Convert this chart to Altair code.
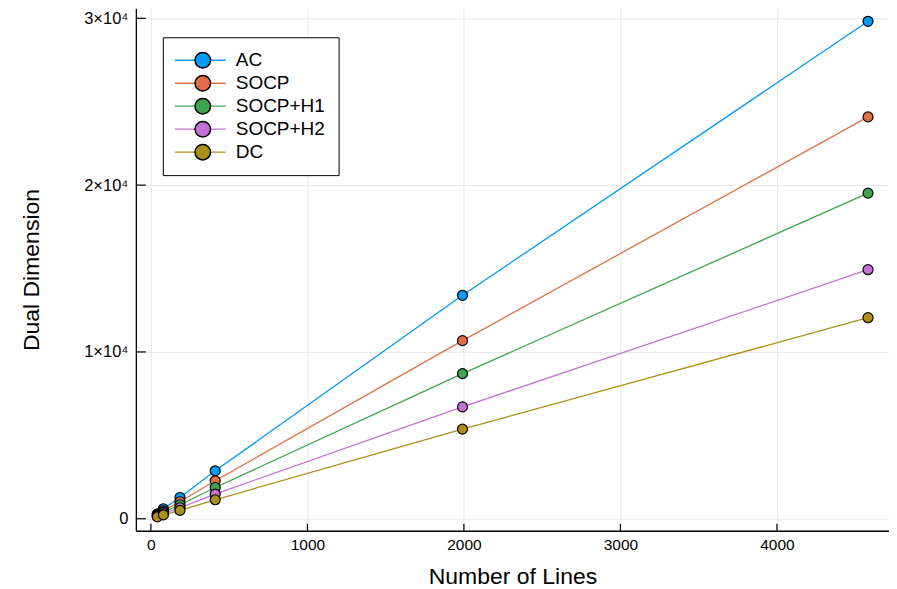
import altair as alt
import pandas as pd

# ---- data ----
series = ["AC", "SOCP", "SOCP+H1", "SOCP+H2", "DC"]
colors = ["#009AFA", "#E36F47", "#3EA44E", "#C371D2", "#AC8E18"]
lines = [41, 80, 186, 411, 1991, 4582]
ac = [290, 600, 1275, 2874, 13395, 29820]
socp = [230, 470, 1020, 2275, 10677, 24090]
socp_h1 = [190, 380, 840, 1874, 8701, 19520]
socp_h2 = [150, 300, 660, 1479, 6707, 14930]
dc = [115, 230, 500, 1138, 5371, 12054]

x_ticks = [0, 1000, 2000, 3000, 4000]
y_ticks = [0, 10000, 20000, 30000]
y_tick_labels = ["0", "1×10⁴", "2×10⁴", "3×10⁴"]

x_title = "Number of Lines"
y_title = "Dual Dimension"

# ---- build table ----
vals = [ac, socp, socp_h1, socp_h2, dc]
rows = []
for i, (s, v) in enumerate(zip(series, vals)):
    for xv, yv in zip(lines, v):
        rows.append({"series": s, "name": s, "idx": i, "lines": xv, "value": yv})
df = pd.DataFrame(rows)

W, H = 754, 523
FONT = "Liberation Sans"

xs = alt.Scale(domain=[-96, 4716], nice=False, zero=False)
ys = alt.Scale(domain=[-719, 30599], nice=False, zero=False)

label_expr = ""
for v, l in zip(y_ticks, y_tick_labels):
    label_expr += f"datum.value == {v} ? '{l}' : "
label_expr += "''"

x_axis = alt.Axis(values=x_ticks, title=x_title, ticks=False, grid=True,
                  labelPadding=7, format="d", titleX=W / 2, titleY=53,
                  titleBaseline="alphabetic", titleAlign="center")
y_axis = alt.Axis(values=y_ticks, title=y_title, ticks=False, grid=True,
                  labelPadding=8, labelExpr=label_expr, labelFontSize=16.5,
                  titleX=-97, titleY=H / 2,
                  titleAngle=270, titleBaseline="alphabetic", titleAlign="center")

tick_df_x = pd.DataFrame({"lines": x_ticks})
tick_df_y = pd.DataFrame({"value": y_ticks})

xt = alt.Chart(tick_df_x).mark_rule(color="black", strokeWidth=1.2).encode(
    x=alt.X("lines:Q", scale=xs, axis=x_axis),
    y=alt.value(H - 7), y2=alt.value(H),
)
yt = alt.Chart(tick_df_y).mark_rule(color="black", strokeWidth=1.2).encode(
    y=alt.Y("value:Q", scale=ys, axis=y_axis),
    x=alt.value(0), x2=alt.value(10),
)

line = alt.Chart(df).mark_line(strokeWidth=1.3).encode(
    x=alt.X("lines:Q", scale=xs, axis=x_axis),
    y=alt.Y("value:Q", scale=ys, axis=y_axis),
    color=alt.Color("series:N", scale=alt.Scale(domain=series, range=colors),
                    legend=alt.Legend(title=None, orient="none", legendX=27, legendY=29,
                                      symbolType="M-3.29,0L2.71,0", symbolSize=289,
                                      symbolStrokeWidth=1.3, symbolOffset=19,
                                      labelOffset=115, labelExpr="''", labelFontSize=19,
                                      labelFont=FONT, padding=11.5, strokeColor="black",
                                      fillColor="white", rowPadding=0, clipHeight=23,
                                      zindex=1, cornerRadius=0)),
    detail="series:N",
)

pts = alt.Chart(df).mark_point(filled=True, shape="circle", size=100, stroke="black",
                               strokeWidth=1.2, opacity=1).encode(
    x=alt.X("lines:Q", scale=xs, axis=x_axis),
    y=alt.Y("value:Q", scale=ys, axis=y_axis),
    fill=alt.Fill("name:N", scale=alt.Scale(range=colors), sort=series,
                  legend=alt.Legend(title=None, orient="none", legendX=57.5, legendY=40.5,
                                    symbolType="circle", symbolSize=240,
                                    symbolStrokeColor="black", symbolStrokeWidth=1.5,
                                    symbolOpacity=1, symbolOffset=0, labelOffset=23.5,
                                    labelFontSize=19, labelFont=FONT, labelColor="black",
                                    padding=0, rowPadding=0, clipHeight=23, zindex=2)),
)

chart = alt.layer(xt, yt, line, pts).properties(
    width=W, height=H,
    padding={"left": 128, "top": 0, "right": 0, "bottom": 57},
    autosize=alt.AutoSizeParams(type="none"),
).configure_view(strokeWidth=0).configure_axis(
    domainColor="black", domainWidth=1.3, gridColor="#e8e8e8", gridWidth=1,
    labelFont=FONT, labelFontSize=15.5, labelColor="black",
    titleFont=FONT, titleFontSize=23, titleColor="black", titleFontWeight="normal",
)

chart.save("out.html", embed_options={"renderer": "svg", "actions": False})
